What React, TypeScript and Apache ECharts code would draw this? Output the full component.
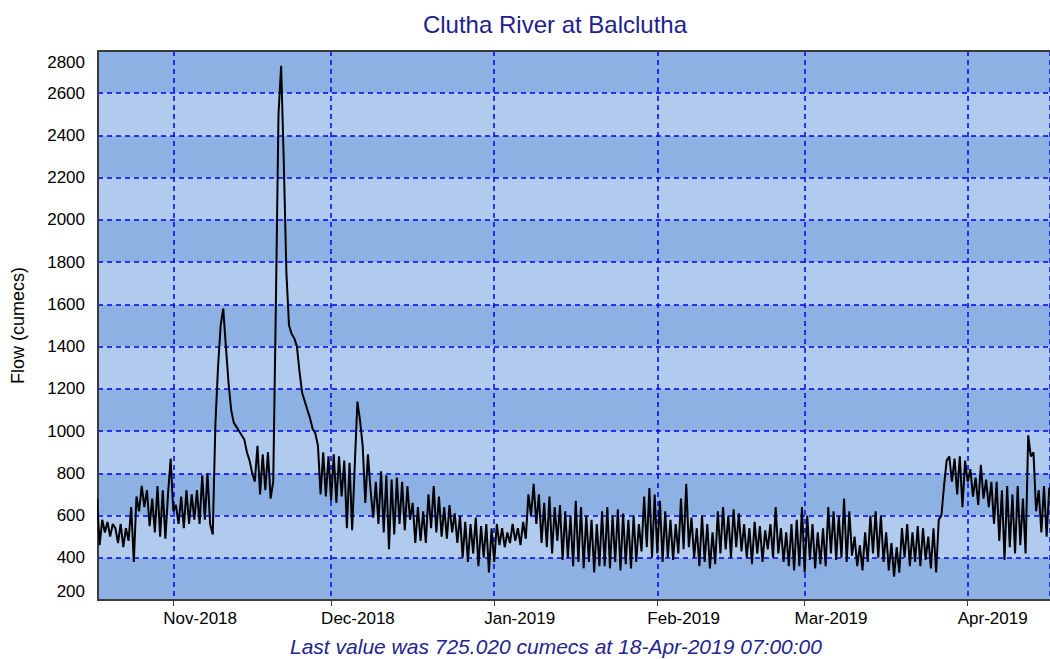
import React, { useEffect, useRef } from "react";
import * as echarts from "echarts";

const chartTitle = "Clutha River at Balclutha";
const footerText = "Last value was 725.020 cumecs at 18-Apr-2019 07:00:00";
const yAxisName = "Flow (cumecs)";
const monthNames = ["Jan", "Feb", "Mar", "Apr", "May", "Jun", "Jul", "Aug", "Sep", "Oct", "Nov", "Dec"];

const yMin = 200;
const yMax = 2800;
const yStep = 200;

const axisStart = new Date(2018, 9, 17, 16, 36).getTime();
const axisEnd = new Date(2019, 3, 16, 15, 24).getTime();

// flow readings every 12 hours from this start time
const flowStart = new Date(2018, 9, 17, 12, 0).getTime();
const flowStepHours = 12;
const flowValues = [
  680, 460, 580, 520, 570, 500, 560, 540, 470, 560, 450, 540, 480, 640, 380,
  690, 620, 740, 640, 720, 550, 680, 520, 740, 500, 720, 490, 700, 870, 620,
  650, 560, 690, 540, 720, 560, 700, 580, 720, 560, 790, 580, 800, 560, 510,
  1030, 1300, 1500, 1580, 1400, 1230, 1100, 1040, 1020, 1000, 980, 960, 900, 860, 800, 760,
  930, 700, 890, 720, 900, 680, 760, 1600, 2500, 2730,
  2280, 1750, 1500, 1460, 1440, 1400, 1280, 1180, 1140, 1100, 1060, 1010, 990, 930,
  700, 900, 690, 880, 670, 890, 660, 880, 690, 860, 540, 850, 530, 840,
  1140, 1050, 930, 660, 890, 720, 590, 760, 560, 810, 520, 790, 440, 770, 510, 780, 560, 760, 530, 740, 580, 660,
  470, 640, 480, 620, 470, 700, 540, 740, 520, 690, 500, 640, 490, 650, 520, 610, 470, 600, 400, 570, 380, 560, 420, 590, 360, 550, 400, 560, 330, 540, 380,
  560, 460, 540, 450, 520, 470, 560, 480, 540, 460, 570, 490, 700, 600, 750, 560,
  700, 470, 660, 450, 690, 420, 640, 480, 650, 390, 620, 400, 600, 360, 670, 380, 640, 350, 600, 380, 580, 330, 560, 360,
  620, 360, 640, 350, 600, 380, 630, 340, 610, 370, 580, 350, 600, 380, 560, 430,
  690, 450, 730, 400, 700, 420, 670, 380,
  620, 400, 580, 390, 560, 420,
  680, 440, 750, 450,
  590, 400, 540, 360, 600, 380, 560, 350, 520, 370,
  620, 420, 640, 440, 600, 400, 630, 450, 610, 430,
  560, 400, 540, 370, 570, 420, 550, 380, 530, 440, 560, 400, 640, 420,
  540, 380, 520, 360, 560, 340,
  580, 360, 640, 330, 600,
  390, 560, 350, 520, 370, 540, 360,
  640, 420, 620, 390, 600, 400, 680, 380, 620, 410,
  500, 360, 460, 340, 520, 380,
  600, 420, 620, 400, 600, 380,
  520, 340, 470, 310, 450, 330,
  540, 400, 560, 360, 520, 380, 550, 360, 540, 390, 500, 350, 540, 330,
  580, 600, 740, 860,
  880, 760, 870, 700, 880, 640, 860, 760,
  820, 690, 780, 650, 840, 680, 770, 640, 760,
  560, 760, 480, 720, 390, 740, 450, 700, 420, 740, 460, 680, 420,
  980, 880, 900, 620, 720, 520, 740, 500, 730, 725,
];

const DAY = 24 * 3600 * 1000;

export default function App() {
  const ref = useRef<HTMLDivElement>(null);

  useEffect(() => {
    if (!ref.current) return;
    const chart = echarts.init(ref.current, undefined, { renderer: "svg" });
    const data = flowValues.map((v, i) => [flowStart + i * flowStepHours * 3600 * 1000, v]);
    const gridLine = { color: "#0000ff", width: 1.5, type: [5, 4] as any };
    const font = "'Liberation Sans', Arial, sans-serif";

    chart.setOption({
      animation: false,
      backgroundColor: "#ffffff",
      title: [
        {
          text: chartTitle,
          left: 550,
          top: 7,
          textAlign: "center",
          textStyle: { color: "#1e1e8c", fontSize: 24, fontWeight: "normal", fontFamily: font },
        },
        {
          text: footerText,
          left: 551,
          top: 631,
          textAlign: "center",
          textStyle: { color: "#24248f", fontSize: 21, fontStyle: "italic", fontWeight: "normal", fontFamily: font },
        },
      ],
      grid: { left: 98, right: 0, top: 51, bottom: 59, containLabel: false, outerBoundsMode: "none" } as any,
      xAxis: [
        {
          type: "time",
          min: axisStart,
          max: axisEnd,
          minInterval: 28 * DAY,
          maxInterval: 31 * DAY,
          axisLine: { show: true, onZero: false, lineStyle: { color: "#3a3a3a", width: 2 } },
          axisTick: { show: true, length: 6, lineStyle: { color: "#3a3a3a", width: 1 } },
          minorTick: { show: false },
          axisLabel: {
            color: "#000",
            fontSize: 17,
            fontFamily: font,
            align: "left",
            margin: 10,
            padding: [0, 0, 0, -10],
            hideOverlap: false,
            formatter: (val: number) => {
              const d = new Date(val);
              return monthNames[d.getMonth()] + "-" + d.getFullYear();
            },
          },
          splitLine: { show: true, lineStyle: gridLine },
        },
        {
          type: "time",
          position: "top",
          min: axisStart,
          max: axisEnd,
          axisLine: { show: true, onZero: false, lineStyle: { color: "#3a3a3a", width: 2 } },
          axisTick: { show: false },
          axisLabel: { show: false },
          splitLine: { show: false },
        },
      ],
      yAxis: {
        type: "value",
        min: yMin,
        max: yMax,
        interval: yStep,
        name: yAxisName,
        nameLocation: "middle",
        nameRotate: 90,
        nameGap: 71,
        nameTextStyle: { color: "#000", fontSize: 18, fontFamily: font },
        axisLine: { show: true, lineStyle: { color: "#3a3a3a", width: 2 } },
        axisTick: { show: false },
        axisLabel: {
          color: "#000",
          fontSize: 17,
          fontFamily: font,
          margin: 13,
          showMinLabel: true,
          showMaxLabel: true,
          formatter: (val: number) => {
            if (val === yMax) return "{top|" + val + "}";
            if (val === yMin) return "{bot|" + val + "}";
            return String(val);
          },
          rich: {
            top: { fontSize: 17, fontFamily: font, color: "#000", padding: [23, 0, 0, 0] },
            bot: { fontSize: 17, fontFamily: font, color: "#000", padding: [0, 0, 18, 0] },
          },
        },
        splitLine: { show: true, lineStyle: gridLine },
        splitArea: { show: true, areaStyle: { color: ["#8eb1e3", "#b1cbee"] } },
      },
      series: [
        {
          type: "line",
          data,
          showSymbol: false,
          symbol: "none",
          clip: true,
          lineStyle: { color: "#000000", width: 2 },
          z: 5,
        },
      ],
    });
    return () => chart.dispose();
  }, []);

  return (
    <div
      ref={ref}
      style={{ position: "fixed", left: 0, top: 0, width: 1050, height: 659, background: "#fff" }}
    />
  );
}
